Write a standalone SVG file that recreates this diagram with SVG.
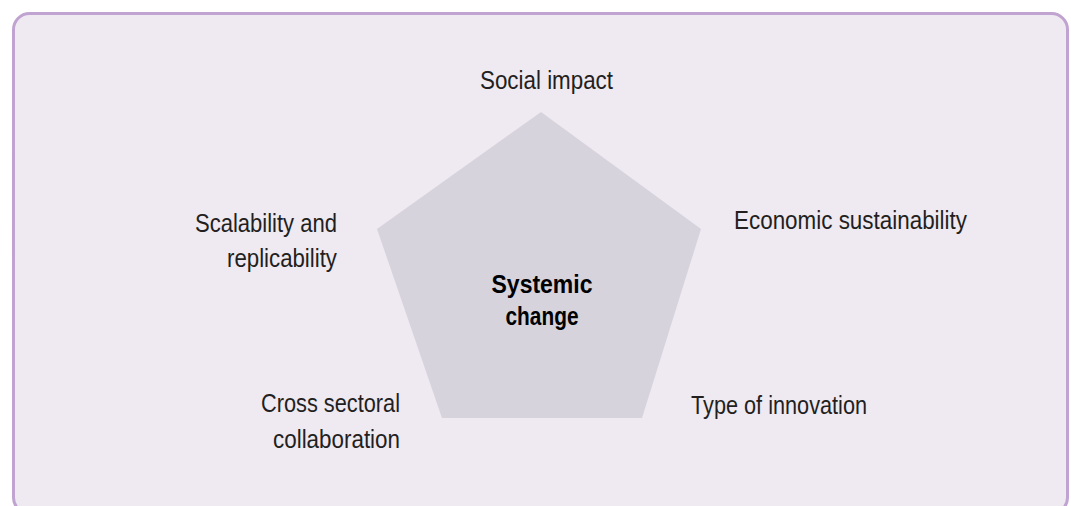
<svg xmlns="http://www.w3.org/2000/svg" width="1071" height="506" viewBox="0 0 1071 506">
  <style>
    .lbl { font-family: "Liberation Sans Narrow", "Liberation Sans", "DejaVu Sans Condensed", sans-serif; font-size: 25px; fill: #231f20; }
    .ctr { font-family: "Liberation Sans Narrow", "Liberation Sans", "DejaVu Sans Condensed", sans-serif; font-size: 25px; font-weight: bold; fill: #000000; }
  </style>
  <rect width="1071" height="506" fill="#ffffff"/>
  <!-- panel frame, bottom edge runs past the canvas -->
  <rect x="13.5" y="13.5" width="1054" height="500" rx="16" ry="16" fill="#efe9f2" stroke="#c0a3d0" stroke-width="3"/>

  <g id="connectors"></g>

  <!-- central pentagon -->
  <g id="systemic-change">
    <polygon points="541,112 701,229 642,418 442,418 377,229" fill="#d6d3dc"/>
    <text class="ctr" x="542" y="293" text-anchor="middle" textLength="101" lengthAdjust="spacingAndGlyphs">Systemic</text>
    <text class="ctr" x="542" y="325" text-anchor="middle" textLength="73" lengthAdjust="spacingAndGlyphs">change</text>
  </g>

  <g id="social-impact">
    <text class="lbl" x="480" y="89" textLength="133" lengthAdjust="spacingAndGlyphs">Social impact</text>
  </g>

  <g id="economic-sustainability">
    <text class="lbl" x="734" y="229" textLength="233" lengthAdjust="spacingAndGlyphs">Economic sustainability</text>
  </g>

  <g id="type-of-innovation">
    <text class="lbl" x="691" y="414" textLength="176" lengthAdjust="spacingAndGlyphs">Type of innovation</text>
  </g>

  <g id="cross-sectoral-collaboration">
    <text class="lbl" x="261" y="412" textLength="139" lengthAdjust="spacingAndGlyphs">Cross sectoral</text>
    <text class="lbl" x="273" y="448" textLength="127" lengthAdjust="spacingAndGlyphs">collaboration</text>
  </g>

  <g id="scalability-replicability">
    <text class="lbl" x="195" y="232" textLength="142" lengthAdjust="spacingAndGlyphs">Scalability and</text>
    <text class="lbl" x="227" y="267" textLength="110" lengthAdjust="spacingAndGlyphs">replicability</text>
  </g>
</svg>
